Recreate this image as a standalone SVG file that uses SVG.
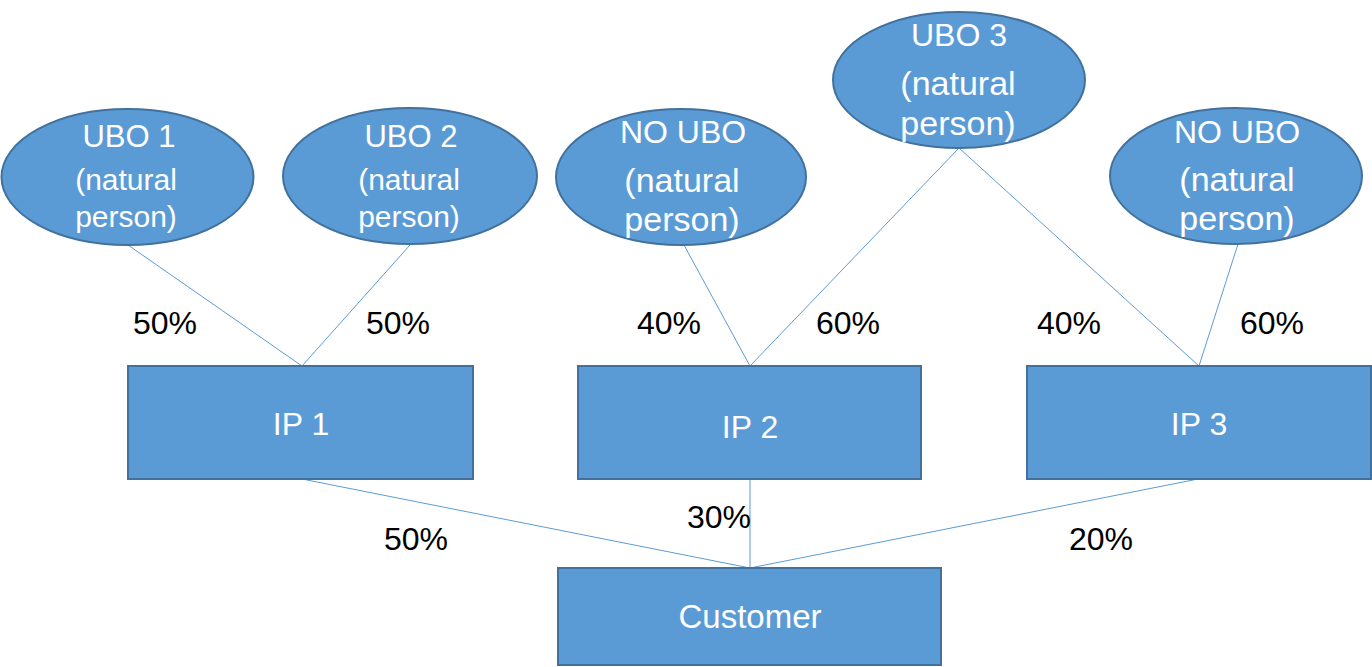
<svg xmlns="http://www.w3.org/2000/svg" width="1372" height="667" viewBox="0 0 1372 667">
<style>
.shape{fill:#5B9BD5;stroke:#41719C;stroke-width:2}
.wt{fill:#FFFFFF;font-family:"Liberation Sans",Arial,sans-serif;text-anchor:middle}
.pct{fill:#000000;font-family:"Liberation Sans",Arial,sans-serif;font-size:32px;text-anchor:middle}
.conn line{stroke:#5B9BD5;stroke-width:1}
</style>
<rect width="1372" height="667" fill="#FFFFFF"/>
<g class="conn" id="connectors">
<line x1="128" y1="245" x2="302" y2="366"/>
<line x1="410" y1="245" x2="302" y2="366"/>
<line x1="684" y1="245" x2="750" y2="366"/>
<line x1="959" y1="148" x2="750" y2="366"/>
<line x1="959" y1="148" x2="1199" y2="366"/>
<line x1="1238" y1="244" x2="1199" y2="366"/>
<line x1="302" y1="479" x2="750" y2="568"/>
<line x1="750" y1="479" x2="750" y2="568"/>
<line x1="1198" y1="479" x2="750" y2="568"/>
</g>
<g id="ubo1">
<ellipse class="shape" cx="127.5" cy="177" rx="126" ry="68"/>
<text class="wt" x="129" y="147" font-size="31">UBO 1</text>
<text class="wt" x="126" y="190" font-size="30">(natural</text>
<text class="wt" x="126" y="227" font-size="30">person)</text>
</g>
<g id="ubo2">
<ellipse class="shape" cx="410" cy="176" rx="127" ry="68"/>
<text class="wt" x="411" y="147" font-size="31">UBO 2</text>
<text class="wt" x="409" y="190" font-size="30">(natural</text>
<text class="wt" x="409" y="227" font-size="30">person)</text>
</g>
<g id="noubo1">
<ellipse class="shape" cx="681" cy="177" rx="125" ry="68"/>
<text class="wt" x="683" y="143" font-size="32">NO UBO</text>
<text class="wt" x="682" y="192" font-size="34">(natural</text>
<text class="wt" x="682" y="231" font-size="34">person)</text>
</g>
<g id="ubo3">
<ellipse class="shape" cx="959" cy="80" rx="126" ry="68"/>
<text class="wt" x="959" y="46" font-size="32">UBO 3</text>
<text class="wt" x="958" y="95" font-size="34">(natural</text>
<text class="wt" x="958" y="135" font-size="34">person)</text>
</g>
<g id="noubo2">
<ellipse class="shape" cx="1236" cy="176" rx="126" ry="68"/>
<text class="wt" x="1237" y="143" font-size="32">NO UBO</text>
<text class="wt" x="1237" y="191" font-size="34">(natural</text>
<text class="wt" x="1237" y="230" font-size="34">person)</text>
</g>
<g id="ip1">
<rect class="shape" x="128" y="366" width="345" height="113"/>
<text class="wt" x="301" y="435" font-size="32">IP 1</text>
</g>
<g id="ip2">
<rect class="shape" x="578" y="366" width="343" height="113"/>
<text class="wt" x="750" y="438" font-size="32">IP 2</text>
</g>
<g id="ip3">
<rect class="shape" x="1027" y="366" width="344" height="113"/>
<text class="wt" x="1199" y="435" font-size="32">IP 3</text>
</g>
<g id="customer">
<rect class="shape" x="558" y="568" width="383" height="97"/>
<text class="wt" x="750" y="628" font-size="33">Customer</text>
</g>
<g id="labels">
<text class="pct" x="165" y="334">50%</text>
<text class="pct" x="398" y="334">50%</text>
<text class="pct" x="669" y="334">40%</text>
<text class="pct" x="848" y="334">60%</text>
<text class="pct" x="1069" y="334">40%</text>
<text class="pct" x="1272" y="334">60%</text>
<text class="pct" x="416" y="550">50%</text>
<text class="pct" x="719" y="528">30%</text>
<text class="pct" x="1101" y="550">20%</text>
</g>
</svg>
